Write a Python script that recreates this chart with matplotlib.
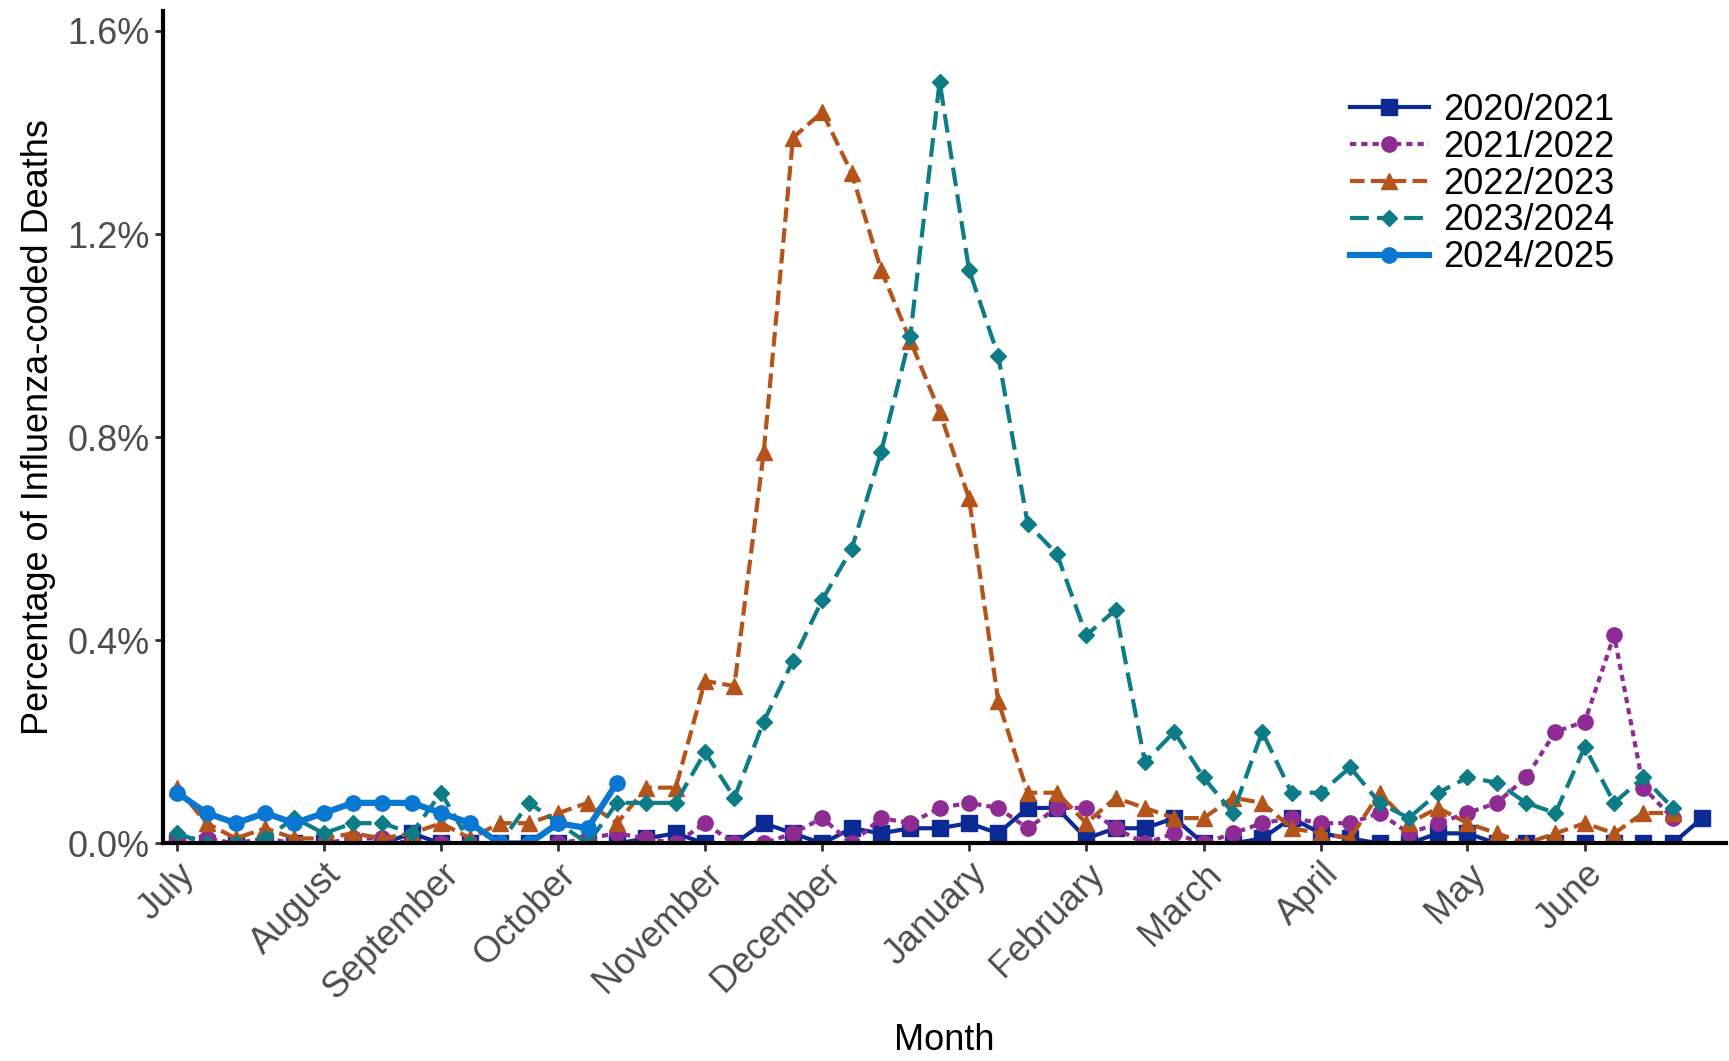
import numpy as np
import matplotlib
matplotlib.use("Agg")
import matplotlib.pyplot as plt
from matplotlib.ticker import FuncFormatter

plt.rcParams['font.family'] = ['Liberation Sans', 'DejaVu Sans']

seasons = ["2020/2021", "2021/2022", "2022/2023", "2023/2024", "2024/2025"]

s2020 = [0.0, 0.0, 0.0, 0.0, 0.0, 0.0, 0.0, 0.0, 0.02, 0.0, 0.0, 0.0, 0.0, 0.0, 0.0, 0.0,
         0.01, 0.02, 0.0, 0.0, 0.04, 0.02, 0.0, 0.03, 0.02, 0.03, 0.03, 0.04, 0.02, 0.07,
         0.07, 0.01, 0.03, 0.03, 0.05, 0.0, 0.0, 0.01, 0.05, 0.02, 0.01, 0.0, 0.0, 0.02,
         0.02, 0.0, 0.0, 0.0, 0.0, 0.0, 0.0, 0.0, 0.05]
s2021 = [0.01, 0.01, 0.0, 0.01, 0.0, 0.0, 0.01, 0.01, 0.0, 0.0, 0.0, 0.0, 0.0, 0.0, 0.01,
         0.02, 0.01, 0.0, 0.04, 0.0, 0.0, 0.02, 0.05, 0.0, 0.05, 0.04, 0.07, 0.08, 0.07,
         0.03, 0.07, 0.07, 0.03, 0.0, 0.02, 0.0, 0.02, 0.04, 0.05, 0.04, 0.04, 0.06, 0.02,
         0.04, 0.06, 0.08, 0.13, 0.22, 0.24, 0.41, 0.11, 0.05]
s2022 = [0.11, 0.04, 0.01, 0.03, 0.01, 0.01, 0.02, 0.01, 0.02, 0.04, 0.01, 0.04, 0.04,
         0.06, 0.08, 0.04, 0.11, 0.11, 0.32, 0.31, 0.77, 1.39, 1.44, 1.32, 1.13, 0.99, 0.85,
         0.68, 0.28, 0.10, 0.10, 0.04, 0.09, 0.07, 0.05, 0.05, 0.09, 0.08, 0.03, 0.02, 0.01,
         0.10, 0.04, 0.07, 0.04, 0.02, 0.0, 0.02, 0.04, 0.02, 0.06, 0.06]
s2023 = [0.02, 0.0, 0.0, 0.01, 0.05, 0.02, 0.04, 0.04, 0.02, 0.10, 0.0, 0.0, 0.08, 0.04,
         0.0, 0.08, 0.08, 0.08, 0.18, 0.09, 0.24, 0.36, 0.48, 0.58, 0.77, 1.00, 1.50, 1.13,
         0.96, 0.63, 0.57, 0.41, 0.46, 0.16, 0.22, 0.13, 0.06, 0.22, 0.10, 0.10, 0.15, 0.08,
         0.05, 0.10, 0.13, 0.12, 0.08, 0.06, 0.19, 0.08, 0.13, 0.07]
s2024 = [0.10, 0.06, 0.04, 0.06, 0.04, 0.06, 0.08, 0.08, 0.08, 0.06, 0.04, 0.0, 0.0, 0.04,
         0.03, 0.12]

months = ["July", "August", "September", "October", "November", "December", "January",
          "February", "March", "April", "May", "June"]
month_weeks = [0, 5, 9, 13, 18, 22, 27, 31, 35, 39, 44, 48]

fig = plt.figure(figsize=(17.29, 10.61), dpi=100)
ax = fig.add_axes([0.094, 0.205, 0.904, 0.785])

styles = [
    (s2020, "#0B2A94", "-", "s", 3.0),
    (s2021, "#8E2C93", (0, (1.5, 1.2)), "o", 3.0),
    (s2022, "#B5541A", (0, (3.5, 1.5)), "^", 3.0),
    (s2023, "#0E7C86", (0, (4.5, 2.0)), "D", 3.0),
    (s2024, "#0A78D2", "-", "o", 4.5),
]
for name, (vals, col, ls, mk, lw) in zip(seasons, styles):
    ax.plot(np.arange(len(vals)), vals, color=col, linestyle=ls, marker=mk, lw=lw,
            markersize=11 if mk != "D" else 8, label=name)

ax.set_xlim(-0.5, 52.8)
ax.set_ylim(0, 1.64)
ax.set_yticks([0, 0.4, 0.8, 1.2, 1.6])
ax.yaxis.set_major_formatter(FuncFormatter(lambda v, p: f"{v:.1f}%"))
ax.set_xticks(month_weeks)
ax.set_xticklabels(months, rotation=45, ha="right", rotation_mode="anchor")
ax.tick_params(labelsize=26, labelcolor="#4D4D4D", width=2, length=6, color="#333333")
for s in ["top", "right"]:
    ax.spines[s].set_visible(False)
for s in ["left", "bottom"]:
    ax.spines[s].set_linewidth(3)
ax.set_xlabel("Month", fontsize=26, labelpad=12)
ax.set_ylabel("Percentage of Influenza-coded Deaths", fontsize=26, labelpad=8)
ax.legend(loc="upper right", bbox_to_anchor=(0.95, 0.94), frameon=False, fontsize=26,
          handlelength=2.2, labelspacing=0.05, handletextpad=0.4)

fig.savefig("out.png", dpi=100)
